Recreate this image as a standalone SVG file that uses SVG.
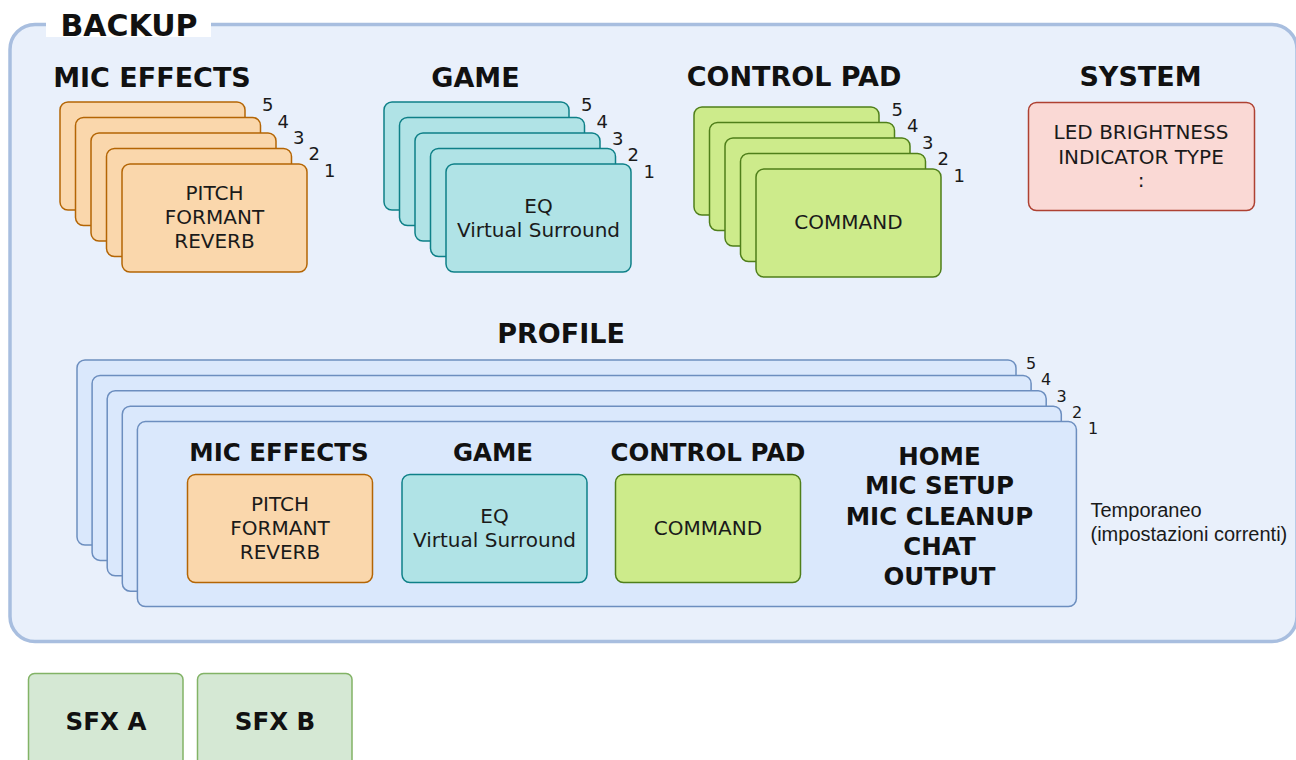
<svg xmlns="http://www.w3.org/2000/svg" width="1296" height="760" viewBox="0 0 1296 760">
<style>
text{font-family:"DejaVu Sans","Liberation Sans",sans-serif;fill:#111;}
.h1{font-weight:bold;font-size:27px;text-anchor:middle;}
.h2{font-weight:bold;font-size:24.5px;text-anchor:middle;}
.t{font-size:20px;text-anchor:middle;fill:#1a1a1a;}
.n{font-size:18px;fill:#1a1a1a;}
.np{font-size:16px;fill:#1a1a1a;}
.orange{fill:#FAD7AC;stroke:#B46504;stroke-width:1.5;}
.teal{fill:#B0E3E6;stroke:#0E8088;stroke-width:1.5;}
.green{fill:#CDEB8B;stroke:#4F7F1A;stroke-width:1.5;}
.red{fill:#FAD9D5;stroke:#AE4132;stroke-width:1.5;}
.blue{fill:#DAE8FC;stroke:#6C8EBF;stroke-width:1.5;}
.sfx{fill:#D5E8D4;stroke:#82B366;stroke-width:1.5;}
.note{font-family:"Liberation Sans",Arial,sans-serif;font-size:20px;fill:#1a1a1a;}
</style>
<rect width="1296" height="760" fill="#ffffff"/>

<g id="backup">
  <rect x="10" y="24.5" width="1287" height="617" rx="25" fill="#E9F0FB" stroke="#A8BEDF" stroke-width="3.5"/>
  <rect x="46" y="6" width="165" height="31" fill="#ffffff"/>
  <text x="129" y="36" font-size="30" font-weight="bold" text-anchor="middle">BACKUP</text>
</g>

<g id="mic-effects">
  <text class="h1" x="152" y="87">MIC EFFECTS</text>
  <rect class="orange" x="60" y="102" width="185" height="108" rx="8"/>
  <rect class="orange" x="75.5" y="117.5" width="185" height="108" rx="8"/>
  <rect class="orange" x="91" y="133" width="185" height="108" rx="8"/>
  <rect class="orange" x="106.5" y="148.5" width="185" height="108" rx="8"/>
  <rect class="orange" x="122" y="164" width="185" height="108" rx="8"/>
  <text class="t" x="214.5" y="200">PITCH</text>
  <text class="t" x="214.5" y="224">FORMANT</text>
  <text class="t" x="214.5" y="248">REVERB</text>
  <text class="n" x="262" y="111">5</text>
  <text class="n" x="277.5" y="127.5">4</text>
  <text class="n" x="293" y="144">3</text>
  <text class="n" x="308.5" y="160">2</text>
  <text class="n" x="324" y="176.5">1</text>
</g>

<g id="game">
  <text class="h1" x="475.5" y="87">GAME</text>
  <rect class="teal" x="384" y="102" width="185" height="108" rx="8"/>
  <rect class="teal" x="399.5" y="117.5" width="185" height="108" rx="8"/>
  <rect class="teal" x="415" y="133" width="185" height="108" rx="8"/>
  <rect class="teal" x="430.5" y="148.5" width="185" height="108" rx="8"/>
  <rect class="teal" x="446" y="164" width="185" height="108" rx="8"/>
  <text class="t" x="538.5" y="213">EQ</text>
  <text class="t" x="538.5" y="237">Virtual Surround</text>
  <text class="n" x="581" y="111">5</text>
  <text class="n" x="596.5" y="128">4</text>
  <text class="n" x="612" y="144.5">3</text>
  <text class="n" x="627.5" y="160.5">2</text>
  <text class="n" x="643.5" y="177.5">1</text>
</g>

<g id="control-pad">
  <text class="h1" x="794" y="86">CONTROL PAD</text>
  <rect class="green" x="694" y="107" width="185" height="108" rx="8"/>
  <rect class="green" x="709.5" y="122.5" width="185" height="108" rx="8"/>
  <rect class="green" x="725" y="138" width="185" height="108" rx="8"/>
  <rect class="green" x="740.5" y="153.5" width="185" height="108" rx="8"/>
  <rect class="green" x="756" y="169" width="185" height="108" rx="8"/>
  <text class="t" x="848.5" y="229">COMMAND</text>
  <text class="n" x="891.5" y="115.5">5</text>
  <text class="n" x="907" y="131.5">4</text>
  <text class="n" x="922" y="149">3</text>
  <text class="n" x="937.5" y="165">2</text>
  <text class="n" x="953.5" y="182">1</text>
</g>

<g id="system">
  <text class="h1" x="1140.5" y="86">SYSTEM</text>
  <rect class="red" x="1028.5" y="102.5" width="226" height="108" rx="8"/>
  <text class="t" x="1141" y="139">LED BRIGHTNESS</text>
  <text class="t" x="1141" y="163.5">INDICATOR TYPE</text>
  <text class="t" x="1141" y="187">:</text>
</g>

<g id="profile">
  <text class="h1" x="561" y="343" font-size="28">PROFILE</text>
  <rect class="blue" x="77" y="360" width="939" height="185" rx="8"/>
  <rect class="blue" x="92.1" y="375.4" width="939" height="185" rx="8"/>
  <rect class="blue" x="107.2" y="390.8" width="939" height="185" rx="8"/>
  <rect class="blue" x="122.3" y="406.2" width="939" height="185" rx="8"/>
  <rect class="blue" x="137.4" y="421.6" width="939" height="185" rx="8"/>
  <text class="np" x="1026" y="369">5</text>
  <text class="np" x="1041" y="385">4</text>
  <text class="np" x="1056.5" y="402">3</text>
  <text class="np" x="1072" y="417.5">2</text>
  <text class="np" x="1088" y="434">1</text>
</g>

<g id="profile-mic-effects">
  <text class="h2" x="279" y="461">MIC EFFECTS</text>
  <rect class="orange" x="187.5" y="474.5" width="185" height="108" rx="8"/>
  <text class="t" x="280" y="511">PITCH</text>
  <text class="t" x="280" y="535">FORMANT</text>
  <text class="t" x="280" y="558.5">REVERB</text>
</g>

<g id="profile-game">
  <text class="h2" x="493" y="461">GAME</text>
  <rect class="teal" x="402" y="474.5" width="185" height="108" rx="8"/>
  <text class="t" x="494.5" y="523">EQ</text>
  <text class="t" x="494.5" y="547">Virtual Surround</text>
</g>

<g id="profile-control-pad">
  <text class="h2" x="708" y="461">CONTROL PAD</text>
  <rect class="green" x="615.5" y="474.5" width="185" height="108" rx="8"/>
  <text class="t" x="708" y="535">COMMAND</text>
</g>

<g id="profile-settings">
  <text class="h2" x="939.5" y="464.5">HOME</text>
  <text class="h2" x="939.5" y="494">MIC SETUP</text>
  <text class="h2" x="939.5" y="524.5">MIC CLEANUP</text>
  <text class="h2" x="939.5" y="554.5">CHAT</text>
  <text class="h2" x="939.5" y="585">OUTPUT</text>
</g>

<g id="temporaneo">
  <text class="note" x="1090.5" y="517">Temporaneo</text>
  <text class="note" x="1090.5" y="541">(impostazioni correnti)</text>
</g>

<g id="sfx-a">
  <rect class="sfx" x="28.5" y="673.5" width="154.5" height="100" rx="6"/>
  <text class="h2" x="106" y="730" font-size="24">SFX A</text>
</g>
<g id="sfx-b">
  <rect class="sfx" x="197.5" y="673.5" width="154.5" height="100" rx="6"/>
  <text class="h2" x="275" y="730" font-size="24">SFX B</text>
</g>

<g id="connectors"></g>
</svg>
